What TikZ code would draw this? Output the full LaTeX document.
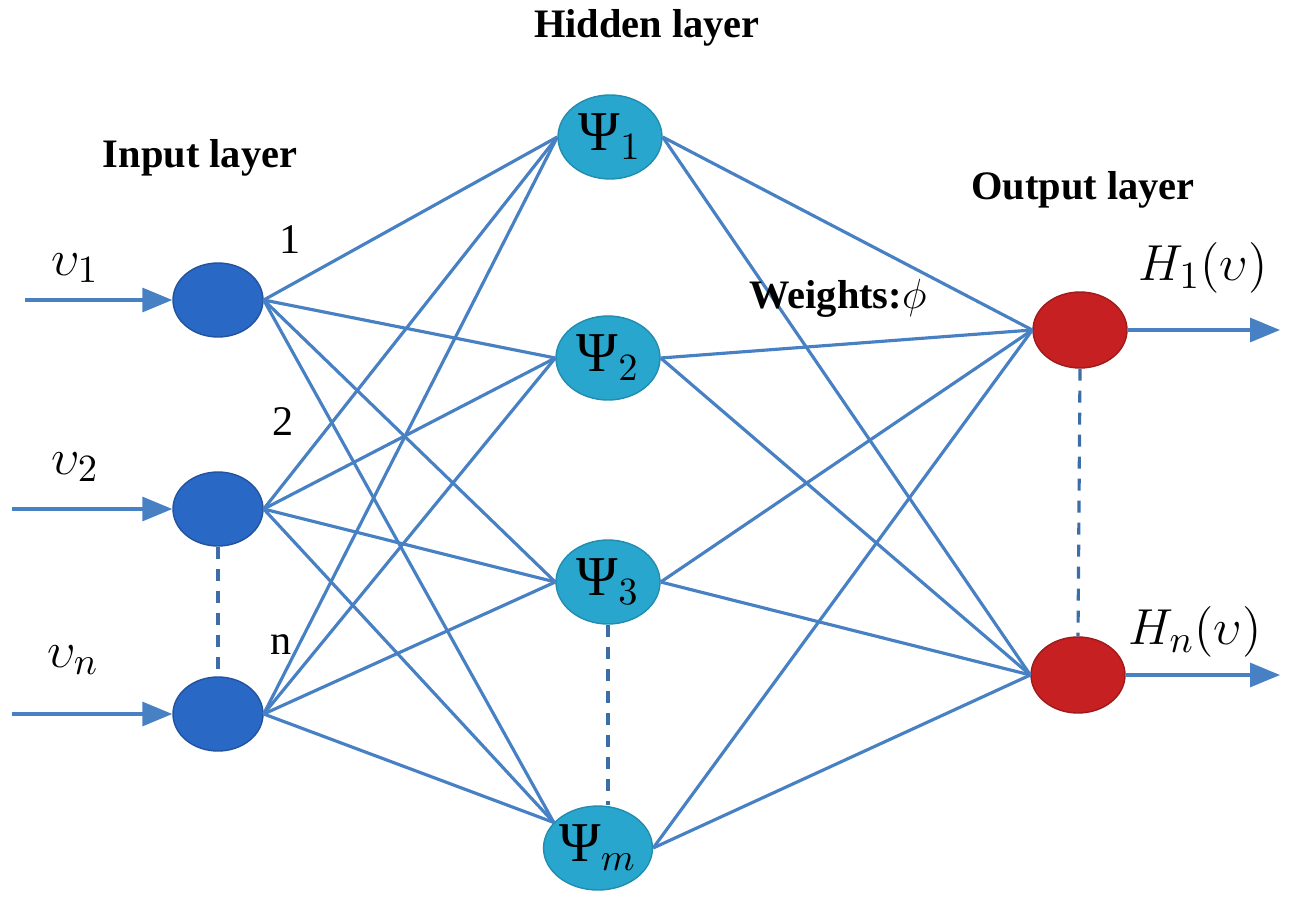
\documentclass[tikz,border=0pt]{standalone}
\usepackage{amsmath,amsfonts}
\usepackage{fontspec}
\setmainfont{Liberation Serif}
\usetikzlibrary{positioning}
\usetikzlibrary{arrows.meta,shapes.geometric}

\definecolor{inblue}{RGB}{42,104,198}
\definecolor{hidcyan}{RGB}{40,166,206}
\definecolor{outred}{RGB}{198,32,34}
\definecolor{wireblue}{RGB}{72,128,196}

\begin{document}
\begin{tikzpicture}[
    innode/.style={ellipse, fill=inblue, draw=inblue!80!black, line width=0.4pt,
        minimum width=0.9cm, minimum height=0.74cm, inner sep=0pt},
    hidnode/.style={ellipse, fill=hidcyan, draw=hidcyan!85!black, line width=0.4pt,
        minimum width=1.04cm, minimum height=0.84cm, inner sep=0pt,
        font=\fontsize{16}{18}\selectfont},
    outnode/.style={ellipse, fill=outred, draw=outred!80!black, line width=0.4pt,
        minimum width=0.94cm, minimum height=0.76cm, inner sep=0pt},
    wire/.style={wireblue, line width=0.9pt},
    feed/.style={wireblue, line width=0.9pt, -{Triangle[length=3mm,width=2.4mm]}},
    gap/.style={wireblue!85!black, line width=0.9pt, dash pattern=on 1.2mm off 1mm},
    title/.style={font=\fontsize{11.5}{14}\selectfont\bfseries},
    sig/.style={font=\fontsize{15}{18}\selectfont},
    idx/.style={font=\fontsize{12}{14}\selectfont}
]
    \useasboundingbox (0,0) rectangle (12.94,9.03);

    \foreach \i/\y in {1/6.03,2/3.94,n/1.89}
        \node[innode] (in\i) at (2.18,\y) {};

    \foreach \i/\x/\y in {1/6.10/7.66,2/6.08/5.45,3/6.08/3.21,m/5.98/0.55}
        \node[hidnode] (h\i) at (\x,\y) {Ψ$_{\i}$};

    \foreach \i/\x/\y in {1/10.80/5.73,n/10.78/2.28}
        \node[outnode] (o\i) at (\x,\y) {};

    \foreach \i in {1,2,n} {
        \foreach \j in {1,2,3}
            \draw[wire] (in\i.east) -- (h\j.west);
        \draw[wire] (in\i.east) -- (hm.150);
    };

    \foreach \k in {1,n} {
        \foreach \j in {1,2,3}
            \draw[wire] (h\j.east) -- (o\k.west);
        \draw[wire] (hm.east) -- (o\k.west);
    };

    \coordinate (src1) at (0.25,6.03);
    \coordinate (src2) at (0.12,3.94);
    \coordinate (srcn) at (0.12,1.89);
    \coordinate (dst1) at (12.80,5.73);
    \coordinate (dstn) at (12.80,2.28);

    \foreach \i in {1,2,n}
        \draw[feed] (src\i) -- (in\i.west);
    \foreach \k in {1,n}
        \draw[feed] (o\k.east) -- (dst\k);

    \draw[gap] (in2.south) -- (inn.north);
    \draw[gap] (h3.south) -- (h3.south |- hm.north);
    \draw[gap] (o1.south) -- (on.north);

    \node[sig] (v1) at (0.75,6.35) {$\upsilon_1$};
    \node[sig] (v2) at (0.75,4.36) {$\upsilon_2$};
    \node[sig] (vn) at (0.73,2.43) {$\upsilon_n$};

    \node[idx] (k1) at (2.90,6.63) {1};
    \node[idx] (k2) at (2.83,4.81) {2};
    \node[idx] (kn) at (2.81,2.58) {n};

    \node[sig] (y1) at (12.03,6.35) {$H_1(\upsilon)$};
    \node[sig] (yn) at (11.95,2.71) {$H_n(\upsilon)$};

    \node[title] (tin) at (2.00,7.45) {Input layer};
    \node[title] (thid) at (6.47,8.75) {Hidden layer};
    \node[title] (tout) at (10.83,7.13) {Output layer};
    \node[title] (tw) at (8.38,6.05) {Weights:\textmd{$\phi$}};
\end{tikzpicture}
\end{document}
